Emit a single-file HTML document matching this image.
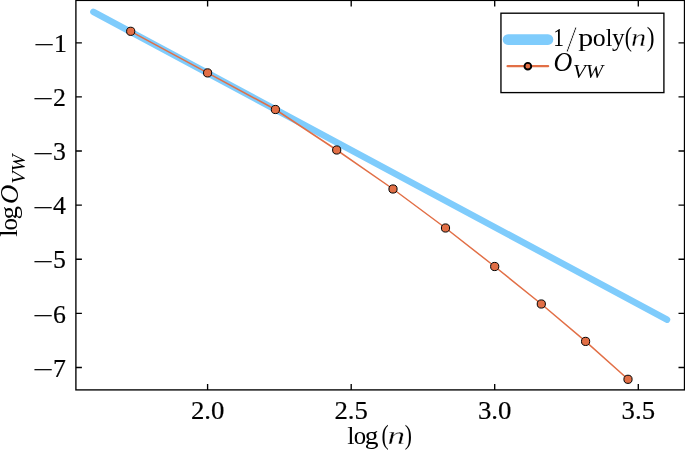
<!DOCTYPE html><html><head><meta charset="utf-8"><title>plot</title><style>html,body{margin:0;padding:0;background:#fff;overflow:hidden}svg{display:block}text{font-family:"Liberation Serif",serif;fill:#000;stroke:none}text.d{stroke:#000;stroke-width:0.2}</style></head><body>
<svg width="685" height="450" viewBox="0 0 685 450">
<rect width="685" height="450" fill="#fff"/>
<line x1="93.4" y1="11.8" x2="667" y2="319.6" stroke="#7fccfc" stroke-width="6.5" stroke-linecap="round"/>
<polyline fill="none" stroke="#e26f46" stroke-width="1.5" points="130.7,31.3 207.6,72.9 275.4,109.5 336.7,150.0 393.0,189.0 445.5,228.0 494.7,266.5 541.3,304.0 585.6,341.4 628.0,379.3"/>
<circle cx="130.7" cy="31.3" r="4.1" fill="#e26f46" stroke="#000" stroke-width="1"/>
<circle cx="207.6" cy="72.9" r="4.1" fill="#e26f46" stroke="#000" stroke-width="1"/>
<circle cx="275.4" cy="109.5" r="4.1" fill="#e26f46" stroke="#000" stroke-width="1"/>
<circle cx="336.7" cy="150.0" r="4.1" fill="#e26f46" stroke="#000" stroke-width="1"/>
<circle cx="393.0" cy="189.0" r="4.1" fill="#e26f46" stroke="#000" stroke-width="1"/>
<circle cx="445.5" cy="228.0" r="4.1" fill="#e26f46" stroke="#000" stroke-width="1"/>
<circle cx="494.7" cy="266.5" r="4.1" fill="#e26f46" stroke="#000" stroke-width="1"/>
<circle cx="541.3" cy="304.0" r="4.1" fill="#e26f46" stroke="#000" stroke-width="1"/>
<circle cx="585.6" cy="341.4" r="4.1" fill="#e26f46" stroke="#000" stroke-width="1"/>
<circle cx="628.0" cy="379.3" r="4.1" fill="#e26f46" stroke="#000" stroke-width="1"/>
<g stroke="#000" stroke-width="1.35" fill="none">
<rect x="75.9" y="0.4" width="608.6" height="389.5"/>
<path d="M207.6 389.9 v-6 M207.6 0.4 v6 M351.2 389.9 v-6 M351.2 0.4 v6 M494.7 389.9 v-6 M494.7 0.4 v6 M638.3 389.9 v-6 M638.3 0.4 v6 M75.9 367.5 h6 M684.5 367.5 h-6 M75.9 313.4 h6 M684.5 313.4 h-6 M75.9 259.2 h6 M684.5 259.2 h-6 M75.9 205.1 h6 M684.5 205.1 h-6 M75.9 151.0 h6 M684.5 151.0 h-6 M75.9 96.9 h6 M684.5 96.9 h-6 M75.9 42.8 h6 M684.5 42.8 h-6"/>
</g>
<text class="d" transform="translate(207.6,418.5) scale(1.05,1.02)" font-size="25.5" text-anchor="middle">2.0</text>
<text class="d" transform="translate(351.2,418.5) scale(1.05,1.02)" font-size="25.5" text-anchor="middle">2.5</text>
<text class="d" transform="translate(494.7,418.5) scale(1.05,1.02)" font-size="25.5" text-anchor="middle">3.0</text>
<text class="d" transform="translate(638.3,418.5) scale(1.05,1.02)" font-size="25.5" text-anchor="middle">3.5</text>
<text class="d"><tspan x="32.64" y="378.01" font-size="25.00" textLength="21.01" lengthAdjust="spacingAndGlyphs" style="stroke:none">−</tspan><tspan x="53.12" y="376.61" font-size="26.00" textLength="12.88" lengthAdjust="spacingAndGlyphs">7</tspan></text>
<text class="d"><tspan x="32.64" y="323.90" font-size="25.00" textLength="21.01" lengthAdjust="spacingAndGlyphs" style="stroke:none">−</tspan><tspan x="53.12" y="322.50" font-size="26.00" textLength="12.88" lengthAdjust="spacingAndGlyphs">6</tspan></text>
<text class="d"><tspan x="32.64" y="269.79" font-size="25.00" textLength="21.01" lengthAdjust="spacingAndGlyphs" style="stroke:none">−</tspan><tspan x="53.12" y="268.39" font-size="26.00" textLength="12.88" lengthAdjust="spacingAndGlyphs">5</tspan></text>
<text class="d"><tspan x="32.64" y="215.68" font-size="25.00" textLength="21.01" lengthAdjust="spacingAndGlyphs" style="stroke:none">−</tspan><tspan x="53.12" y="214.28" font-size="26.00" textLength="12.88" lengthAdjust="spacingAndGlyphs">4</tspan></text>
<text class="d"><tspan x="32.64" y="161.57" font-size="25.00" textLength="21.01" lengthAdjust="spacingAndGlyphs" style="stroke:none">−</tspan><tspan x="53.12" y="160.17" font-size="26.00" textLength="12.88" lengthAdjust="spacingAndGlyphs">3</tspan></text>
<text class="d"><tspan x="32.64" y="107.46" font-size="25.00" textLength="21.01" lengthAdjust="spacingAndGlyphs" style="stroke:none">−</tspan><tspan x="53.12" y="106.06" font-size="26.00" textLength="12.88" lengthAdjust="spacingAndGlyphs">2</tspan></text>
<text class="d"><tspan x="33.54" y="53.35" font-size="25.00" textLength="21.01" lengthAdjust="spacingAndGlyphs" style="stroke:none">−</tspan><tspan x="54.02" y="51.95" font-size="26.00" textLength="12.88" lengthAdjust="spacingAndGlyphs">1</tspan></text>
<text><tspan x="347.38" y="443.60" font-size="25.00" textLength="7.30" lengthAdjust="spacingAndGlyphs">l</tspan><tspan x="353.71" y="443.60" font-size="25.00" textLength="12.38" lengthAdjust="spacingAndGlyphs">o</tspan><tspan x="364.80" y="443.60" font-size="25.00" textLength="13.75" lengthAdjust="spacingAndGlyphs">g</tspan><tspan x="381.44" y="444.07" font-size="27.78" textLength="7.17" lengthAdjust="spacingAndGlyphs">(</tspan><tspan x="387.52" y="443.60" font-size="25.50" textLength="17.55" lengthAdjust="spacingAndGlyphs" font-style="italic" style="stroke:#fff;stroke-width:0.3">n</tspan><tspan x="404.75" y="444.07" font-size="27.78" textLength="7.18" lengthAdjust="spacingAndGlyphs">)</tspan></text>
<text transform="translate(17.3,236.2) rotate(-90)"><tspan x="-0.52" y="0.00" font-size="25.00" textLength="7.18" lengthAdjust="spacingAndGlyphs">l</tspan><tspan x="5.61" y="0.00" font-size="25.00" textLength="12.38" lengthAdjust="spacingAndGlyphs">o</tspan><tspan x="16.72" y="0.00" font-size="25.00" textLength="13.52" lengthAdjust="spacingAndGlyphs">g</tspan><tspan x="30" y="0" font-size="8"> </tspan><tspan x="32.16" y="0.34" font-size="25.97" textLength="19.34" lengthAdjust="spacingAndGlyphs" font-style="italic">O</tspan><tspan x="52.37" y="7.34" font-size="18.45" textLength="29.42" lengthAdjust="spacingAndGlyphs" font-style="italic">VW</tspan></text>
<rect x="500.95" y="13.2" width="162.95" height="79.4" fill="#fff" stroke="#000" stroke-width="1.35"/>
<line x1="508" y1="39.6" x2="548" y2="39.6" stroke="#7fccfc" stroke-width="10.6" stroke-linecap="round"/>
<line x1="507.6" y1="66.2" x2="548.1" y2="66.2" stroke="#e26f46" stroke-width="2.3" stroke-linecap="round"/>
<circle cx="527.85" cy="66.2" r="3.35" fill="#e26f46" stroke="#000" stroke-width="1.9"/>
<text><tspan x="553.37" y="46.10" font-size="25.15" textLength="10.71" lengthAdjust="spacingAndGlyphs">1</tspan><tspan x="566.00" y="51.94" font-size="38.06" textLength="11.03" lengthAdjust="spacingAndGlyphs" style="stroke:#fff;stroke-width:0.8">/</tspan><tspan x="578.31" y="46.10" font-size="25.50" textLength="14.96" lengthAdjust="spacingAndGlyphs">p</tspan><tspan x="592.69" y="46.10" font-size="25.50" textLength="12.93" lengthAdjust="spacingAndGlyphs">o</tspan><tspan x="605.73" y="46.10" font-size="25.50" textLength="6.62" lengthAdjust="spacingAndGlyphs">l</tspan><tspan x="612.05" y="46.10" font-size="25.50" textLength="12.65" lengthAdjust="spacingAndGlyphs">y</tspan><tspan x="624.64" y="46.44" font-size="27.44" textLength="7.18" lengthAdjust="spacingAndGlyphs">(</tspan><tspan x="631.11" y="46.10" font-size="25.50" textLength="15.18" lengthAdjust="spacingAndGlyphs" font-style="italic" style="stroke:#fff;stroke-width:0.3">n</tspan><tspan x="646.80" y="46.44" font-size="27.44" textLength="7.82" lengthAdjust="spacingAndGlyphs">)</tspan></text>
<text><tspan x="553.50" y="71.24" font-size="26.42" textLength="18.79" lengthAdjust="spacingAndGlyphs" font-style="italic">O</tspan><tspan x="572.94" y="78.33" font-size="19.20" textLength="30.21" lengthAdjust="spacingAndGlyphs" font-style="italic">VW</tspan></text>
</svg></body></html>
